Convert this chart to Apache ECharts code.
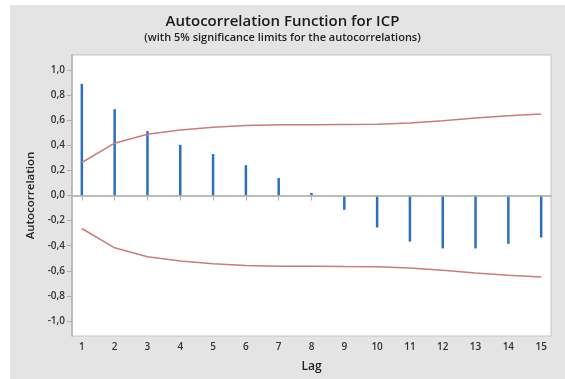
<!DOCTYPE html>
<html>
<head>
<meta charset="utf-8">
<script src="https://cdn.jsdelivr.net/npm/echarts@6/dist/echarts.min.js"></script>
<style>
html,body{margin:0;padding:0;background:#fff;}
#c{width:565px;height:379px;}
</style>
</head>
<body>
<div id="c"></div>
<script>
const lags = [1,2,3,4,5,6,7,8,9,10,11,12,13,14,15];
const acf = [0.89,0.688,0.513,0.404,0.33,0.242,0.139,0.02,-0.114,-0.255,-0.367,-0.422,-0.422,-0.385,-0.335];
const upperLimit = [0.263,0.417,0.489,0.523,0.545,0.558,0.563,0.564,0.566,0.567,0.577,0.595,0.617,0.635,0.649];
const lowerLimit = upperLimit.map(v => -v);
const yTicks = [-1.0,-0.8,-0.6,-0.4,-0.2,0.0,0.2,0.4,0.6,0.8,1.0];

const font = "'Open Sans', 'Noto Sans', sans-serif";
const chart = echarts.init(document.getElementById('c'));
chart.setOption({
  animation: false,
  backgroundColor: '#e4e4e4',
  title: {
    text: 'Autocorrelation Function for ICP',
    subtext: '(with 5% significance limits for the autocorrelations)',
    left: 'center',
    top: 9,
    itemGap: 3,
    textStyle: {fontFamily: font, fontSize: 15, fontWeight: 600, color: '#1a1a1a'},
    subtextStyle: {fontFamily: font, fontSize: 11, fontWeight: 600, color: '#222'}
  },
  graphic: [
    {type: 'rect', shape: {x: 0, y: 0, width: 565, height: 5}, style: {fill: '#fff'}, silent: true},
    {type: 'rect', shape: {x: 0, y: 0, width: 10, height: 379}, style: {fill: '#fff'}, silent: true}
  ],
  grid: {
    left: 72, right: 14, top: 55, bottom: 43,
    show: true, backgroundColor: '#fff', borderColor: '#c4c4c4', borderWidth: 1
  },
  xAxis: {
    type: 'value', min: 0.7, max: 15.3,
    name: 'Lag', nameLocation: 'middle', nameGap: 25,
    nameTextStyle: {fontFamily: font, fontSize: 12, color: '#222', fontWeight: 600},
    axisLine: {lineStyle: {color: '#b0b0b0', width: 1.5}},
    axisTick: {show: true, length: 5, lineStyle: {color: '#b0b0b0'}, customValues: lags},
    axisLabel: {fontFamily: font, fontSize: 10, color: '#333', fontWeight: 600, margin: 6, customValues: lags,
      formatter: v => String(Math.round(v))},
    splitLine: {show: false}
  },
  yAxis: {
    type: 'value', min: -1.12, max: 1.12,
    name: 'Autocorrelation', nameLocation: 'middle', nameGap: 32, nameRotate: 90,
    nameTextStyle: {fontFamily: font, fontSize: 11.5, color: '#222', fontWeight: 600},
    axisLine: {show: true, lineStyle: {color: '#b0b0b0', width: 1.5}},
    axisTick: {show: true, length: 5, lineStyle: {color: '#b0b0b0'}, customValues: yTicks},
    axisLabel: {fontFamily: font, fontSize: 10, color: '#333', fontWeight: 600, margin: 7, customValues: yTicks,
      formatter: v => v.toFixed(1).replace('.', ',')},
    splitLine: {show: false}
  },
  series: [
    {
      type: 'bar', data: lags.map((l, i) => [l, acf[i]]), barWidth: 2.5,
      itemStyle: {color: '#2e6fbd'},
      markLine: {silent: true, symbol: 'none', label: {show: false},
        lineStyle: {color: '#b8b8b8', type: 'solid', width: 1.5}, data: [{yAxis: 0}]}
    },
    {
      type: 'line', data: lags.map((l, i) => [l, upperLimit[i]]), showSymbol: false,
      lineStyle: {color: '#cc7a7a', width: 1.5}
    },
    {
      type: 'line', data: lags.map((l, i) => [l, lowerLimit[i]]), showSymbol: false,
      lineStyle: {color: '#cc7a7a', width: 1.5}
    }
  ]
});
</script>
</body>
</html>
